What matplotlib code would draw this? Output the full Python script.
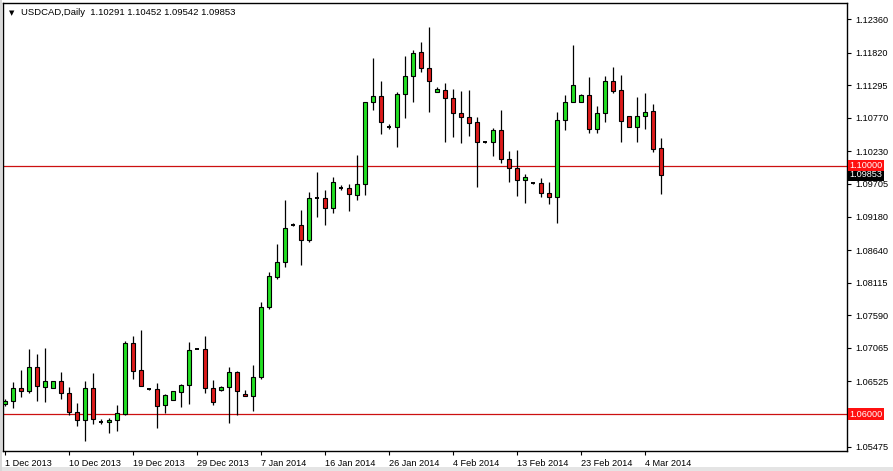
import matplotlib.pyplot as plt
import matplotlib.transforms as mtransforms
import matplotlib.patches as mpatches
import numpy as np

plt.rcParams['font.family'] = ['Liberation Sans', 'DejaVu Sans']

# daily USDCAD candles
opens = [1.06162, 1.06210, 1.06419, 1.06371, 1.06757, 1.06435, 1.06419, 1.06532, 1.06339, 1.06033,
         1.05904, 1.06419, 1.05872, 1.05872, 1.05904, 1.06001, 1.07144, 1.06709, 1.06403, 1.06403,
         1.06146, 1.06226, 1.06355, 1.06468, 1.07047, 1.07047, 1.06419, 1.06387, 1.06435, 1.06677,
         1.06323, 1.06290, 1.06596, 1.07723, 1.08206, 1.08448, 1.09044, 1.09044, 1.08802, 1.09478,
         1.09478, 1.09317, 1.09639, 1.09639, 1.09527, 1.09704, 1.11024, 1.11120, 1.10621, 1.10621,
         1.11153, 1.11442, 1.11829, 1.11571, 1.11185, 1.11217, 1.11088, 1.10847, 1.10782, 1.10702,
         1.10380, 1.10380, 1.10573, 1.10106, 1.09961, 1.09768, 1.09720, 1.09720, 1.09559, 1.09494,
         1.10734, 1.11024, 1.11024, 1.11136, 1.10589, 1.10847, 1.11362, 1.11217, 1.10798, 1.10621,
         1.10798, 1.10879, 1.10291]
highs = [1.06242, 1.06516, 1.06709, 1.07047, 1.06967, 1.07063, 1.06532, 1.06677, 1.06435, 1.06178,
         1.06532, 1.06661, 1.05920, 1.05936, 1.06146, 1.07176, 1.07256, 1.07353, 1.06419, 1.06500,
         1.06323, 1.06371, 1.06484, 1.07160, 1.07050, 1.07256, 1.06548, 1.06451, 1.06757, 1.06693,
         1.06387, 1.06790, 1.07804, 1.08287, 1.08738, 1.09446, 1.09076, 1.09285, 1.09575, 1.09897,
         1.09607, 1.09816, 1.09688, 1.09704, 1.10171, 1.11030, 1.11732, 1.11362, 1.10670, 1.11185,
         1.11764, 1.11861, 1.11990, 1.12231, 1.11265, 1.11330, 1.11233, 1.11201, 1.11217, 1.10782,
         1.10396, 1.10605, 1.10895, 1.10235, 1.10251, 1.09865, 1.09736, 1.09800, 1.09736, 1.10863,
         1.11136, 1.11941, 1.11153, 1.11426, 1.10959, 1.11442, 1.11587, 1.11458, 1.10798, 1.11104,
         1.11169, 1.10992, 1.10452]
lows = [1.06129, 1.06097, 1.06274, 1.06339, 1.06210, 1.06194, 1.06419, 1.06242, 1.05985, 1.05807,
        1.05566, 1.05840, 1.05840, 1.05695, 1.05727, 1.05985, 1.06564, 1.06451, 1.06387, 1.05775,
        1.06017, 1.06226, 1.06113, 1.06162, 1.07044, 1.06339, 1.06146, 1.06371, 1.05856, 1.05985,
        1.06290, 1.06049, 1.06564, 1.07691, 1.08174, 1.08367, 1.09027, 1.08400, 1.08770, 1.09172,
        1.09044, 1.09237, 1.09607, 1.09269, 1.09446, 1.09527, 1.10895, 1.10509, 1.10589, 1.10299,
        1.10766, 1.11024, 1.11507, 1.10863, 1.11185, 1.10380, 1.10460, 1.10364, 1.10476, 1.09655,
        1.10364, 1.10154, 1.10042, 1.09736, 1.09510, 1.09398, 1.09704, 1.09494, 1.09382, 1.09076,
        1.10573, 1.11024, 1.11024, 1.10525, 1.10525, 1.10702, 1.11169, 1.10380, 1.10621, 1.10380,
        1.10589, 1.10219, 1.09542]
closes = [1.06210, 1.06419, 1.06371, 1.06757, 1.06451, 1.06532, 1.06532, 1.06339, 1.06033, 1.05904,
          1.06419, 1.05920, 1.05875, 1.05904, 1.06017, 1.07144, 1.06693, 1.06451, 1.06400, 1.06129,
          1.06307, 1.06371, 1.06468, 1.07031, 1.07047, 1.06419, 1.06194, 1.06435, 1.06677, 1.06371,
          1.06290, 1.06596, 1.07723, 1.08222, 1.08448, 1.08995, 1.09044, 1.08802, 1.09478, 1.09478,
          1.09317, 1.09736, 1.09639, 1.09543, 1.09704, 1.11024, 1.11120, 1.10702, 1.10621, 1.11153,
          1.11442, 1.11813, 1.11571, 1.11362, 1.11233, 1.11088, 1.10847, 1.10782, 1.10686, 1.10380,
          1.10380, 1.10573, 1.10106, 1.09961, 1.09768, 1.09816, 1.09720, 1.09559, 1.09494, 1.10734,
          1.11024, 1.11297, 1.11136, 1.10589, 1.10847, 1.11362, 1.11201, 1.10718, 1.10621, 1.10798,
          1.10863, 1.10267, 1.09853]

date_pos = [0, 8, 16, 24, 32, 40, 48, 56, 64, 72, 80]
date_labels = ["1 Dec 2013", "10 Dec 2013", "19 Dec 2013", "29 Dec 2013", "7 Jan 2014",
               "16 Jan 2014", "26 Jan 2014", "4 Feb 2014", "13 Feb 2014", "23 Feb 2014",
               "4 Mar 2014"]
price_ticks = [1.12360, 1.11820, 1.11295, 1.10770, 1.10230, 1.09705, 1.09180, 1.08640,
               1.08115, 1.07590, 1.07065, 1.06525, 1.05475]
levels = [1.10000, 1.06000]
last_price = 1.09853

bull = '#22e022'
bear = '#dd1a1a'

fig = plt.figure(figsize=(8.93, 4.71), dpi=100)
# thin grey window frame like the terminal screenshot
fig.patches.append(mpatches.Rectangle((0, 0), 1, 4 / 471, transform=fig.transFigure,
                                      fc='#e4e4e4', ec='none', zorder=0))
fig.patches.append(mpatches.Rectangle((0, 0), 2 / 893, 1, transform=fig.transFigure,
                                      fc='#d8d8d8', ec='none', zorder=0))
ax = fig.add_axes([3 / 893, 20 / 471, 844 / 893, 448 / 471])

o = np.array(opens)
h = np.array(highs)
l = np.array(lows)
c = np.array(closes)
idx = np.arange(len(o))

# horizontal levels sit behind the candles
for lv in levels:
    ax.axhline(lv, color='#cc1010', lw=0.9, zorder=1)

ax.vlines(idx, l, h, color='black', lw=0.9, zorder=2)
body_lo = np.minimum(o, c)
body_hi = np.maximum(o, c)
doji = (body_hi - body_lo) < 0.00008
cols = np.where(c >= o, bull, bear)
ax.bar(idx[~doji], (body_hi - body_lo)[~doji], bottom=body_lo[~doji], width=0.6,
       color=cols[~doji], edgecolor='black', linewidth=0.8, zorder=3)
ax.hlines(c[doji], idx[doji] - 0.3, idx[doji] + 0.3, color='black', lw=1.4, zorder=3)

ax.set_xlim(-0.25, 105.25)
ax.set_ylim(1.05405, 1.12618)

ax.yaxis.tick_right()
ax.set_yticks(price_ticks)
ax.set_yticklabels(['%.5f' % p for p in price_ticks])
ax.set_xticks(date_pos)
ax.set_xticklabels(date_labels, ha='left')
ax.tick_params(axis='both', direction='out', length=3, width=0.8, labelsize=6.6, pad=3,
               colors='black')
for sp in ax.spines.values():
    sp.set_linewidth(1.0)

# price boxes on the right scale
trans = mtransforms.blended_transform_factory(ax.transAxes, ax.transData)
ax.text(1.003, last_price, '%.5f' % last_price, transform=trans, va='center', ha='left',
        fontsize=6.6, color='white', clip_on=False, zorder=5,
        bbox=dict(boxstyle='square,pad=0.15', fc='black', ec='none'))
for lv in levels:
    ax.text(1.003, lv, '%.5f' % lv, transform=trans, va='center', ha='left',
            fontsize=6.6, color='white', clip_on=False, zorder=6,
            bbox=dict(boxstyle='square,pad=0.15', fc='#ff1010', ec='none'))

ax.text(0.0105, 0.978, '\u25bc', transform=ax.transAxes, va='center', ha='center',
        fontsize=5, family='DejaVu Sans')
ax.text(0.0213, 0.978, 'USDCAD,Daily  %.5f %.5f %.5f %.5f' % (opens[-1], highs[-1], lows[-1], closes[-1]),
        transform=ax.transAxes, va='center', ha='left', fontsize=6.8)

fig.savefig('out.png', dpi=100)
